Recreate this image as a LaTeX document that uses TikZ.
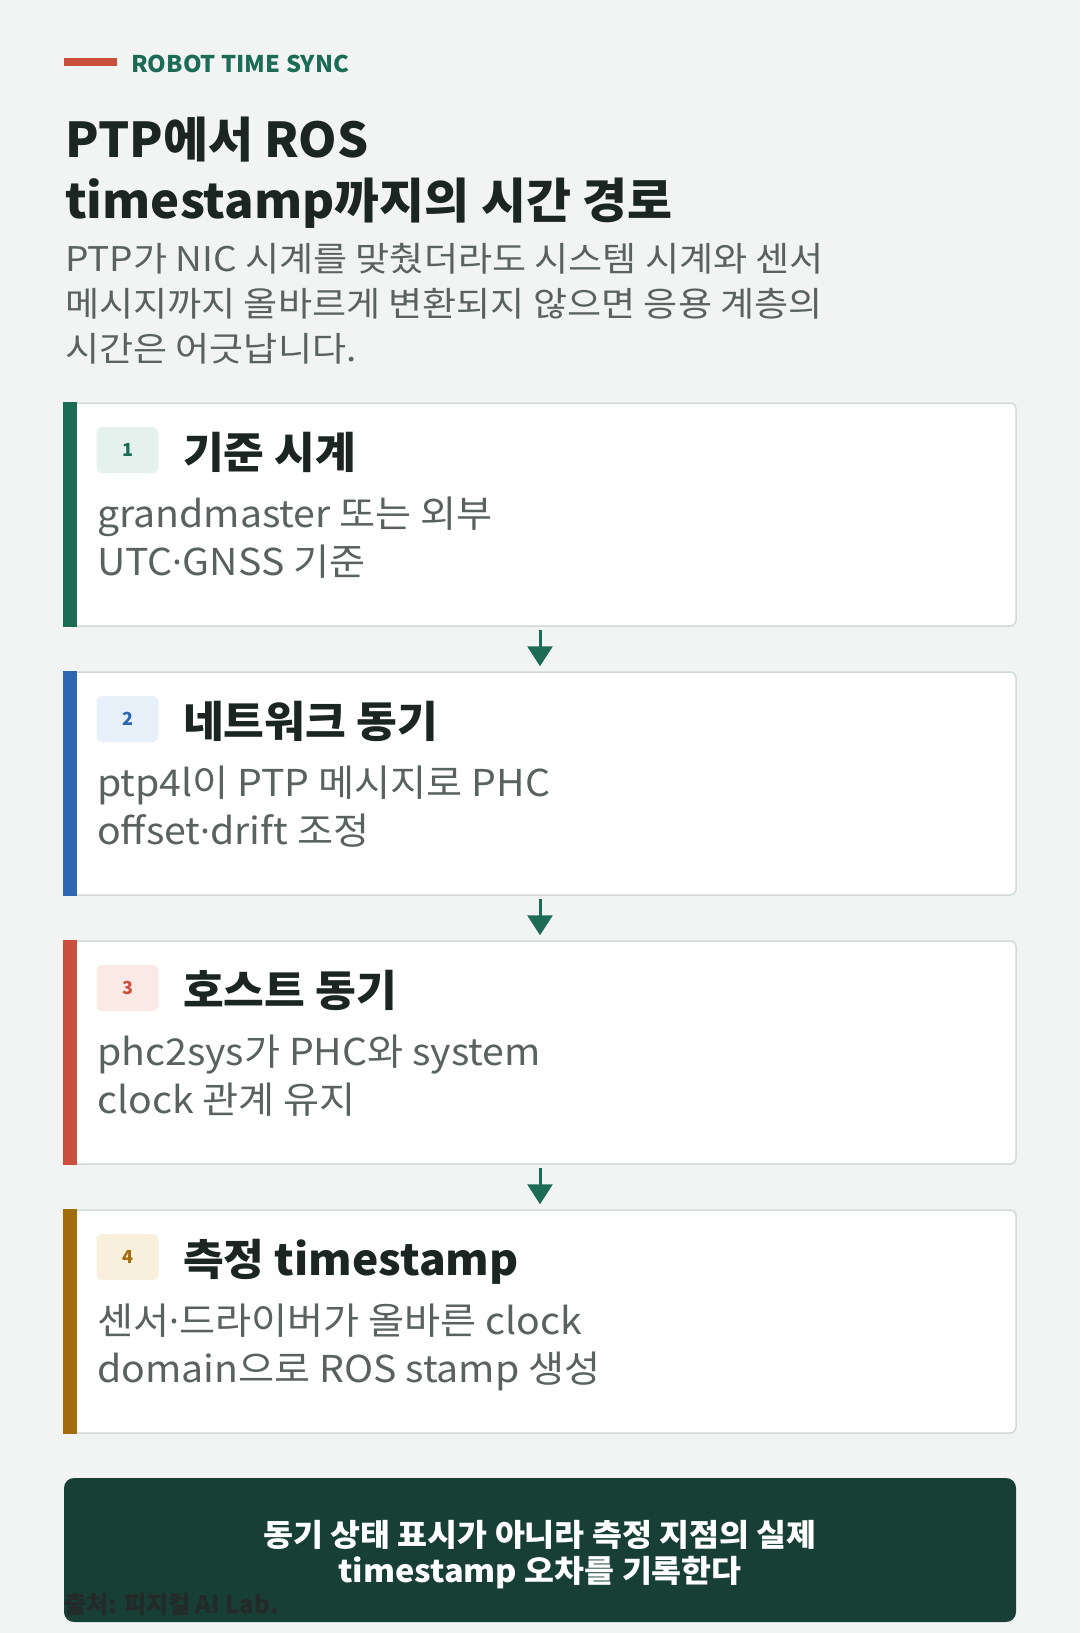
\documentclass[tikz,border=0pt]{standalone}
\usepackage{fontspec}
\setmainfont{Noto Sans CJK KR}
\newfontfamily\dotfont{Noto Sans}
\usetikzlibrary{positioning,arrows.meta}

\definecolor{bg}{HTML}{F2F4F3}
\definecolor{ink}{HTML}{1B2521}
\definecolor{mute}{HTML}{59625F}
\definecolor{edge}{HTML}{D2DAD7}
\definecolor{pine}{HTML}{1B6B55}
\definecolor{sea}{HTML}{2D67B2}
\definecolor{brick}{HTML}{C9503F}
\definecolor{ochre}{HTML}{A36C0E}
\definecolor{pineT}{HTML}{E5F1EC}
\definecolor{seaT}{HTML}{E7EFF9}
\definecolor{brickT}{HTML}{FBE9E5}
\definecolor{ochreT}{HTML}{F8EFDC}
\definecolor{deep}{HTML}{173F35}
\definecolor{src}{HTML}{232A27}

\begin{document}
\begin{tikzpicture}[x=1pt,y=-1pt,
    title/.style={anchor=base west,inner sep=0pt,text=ink,
        font={\fontsize{48}{48}\selectfont\bfseries\addfontfeature{FakeStretch=1.02}}},
    desc/.style={anchor=base west,inner sep=0pt,text=mute,
        font={\fontsize{34}{34}\selectfont\addfontfeature{FakeStretch=1.09}}},
    card/.style={draw=edge,line width=1.5pt,fill=white,rounded corners=6pt,
        minimum width=952pt,minimum height=223pt,inner sep=0pt},
    badge/.style={rounded corners=6pt,minimum width=62pt,minimum height=46pt,
        inner sep=0pt,font={\fontsize{18}{18}\selectfont\bfseries}},
    head/.style={anchor=base west,inner sep=0pt,text=ink,
        font={\fontsize{43}{43}\selectfont\bfseries\addfontfeature{FakeStretch=1.03}}},
    body/.style={anchor=base west,inner sep=0pt,text=mute,
        font={\fontsize{37}{37}\selectfont\addfontfeature{FakeStretch=1.06}}},
    note/.style={anchor=base,inner sep=0pt,text=white,
        font={\fontsize{31}{31}\selectfont\bfseries\addfontfeature{FakeStretch=1.05}}},
    flow/.style={draw=pine,line width=3pt,shorten <=3pt,shorten >=5pt,
        -{Triangle[width=25pt,length=20pt]}}]
\useasboundingbox (0,0) rectangle (1080,1633);
\fill[bg] (0,0) rectangle (1080,1633);

% heading
\fill[brick] (64,58) rectangle (117,66);
\node[anchor=base west,inner sep=0pt,text=pine,
    font={\fontsize{23}{23}\selectfont\bfseries\addfontfeature{FakeStretch=1.03}}]
    (tag) at (131,72.5) {ROBOT TIME SYNC};
\node[title] (title1) at (65,157) {PTP에서 ROS};
\node[title] (title2) at (65,218) {timestamp까지의 시간 경로};
\node[desc] (desc1) at (65,271) {PTP가 NIC 시계를 맞췄더라도 시스템 시계와 센서};
\node[desc] (desc2) at (65,316) {메시지까지 올바르게 변환되지 않으면 응용 계층의};
\node[desc] (desc3) at (65,361) {시간은 어긋납니다.};

% four steps
\foreach \i/\col/\tint/\head/\la/\lb in {%
    1/pine/pineT/{기준 시계}/{grandmaster 또는 외부}/{UTC{\dotfont ·}GNSS 기준},%
    2/sea/seaT/{네트워크 동기}/{ptp4l이 PTP 메시지로 PHC}/{offset{\dotfont ·}drift 조정},%
    3/brick/brickT/{호스트 동기}/{phc2sys가 PHC와 system}/{clock 관계 유지},%
    4/ochre/ochreT/{측정 timestamp}/{센서{\dotfont ·}드라이버가 올바른 clock}/{domain으로 ROS stamp 생성}}{
  \pgfmathsetmacro\ytop{403+269*(\i-1)}
  \node[card] (c\i) at (540,\ytop+111.5) {};
  \fill[\col] (c\i.north west) rectangle ([xshift=14pt]c\i.south west);
  \node[badge,fill=\tint,text=\col] (n\i) at (127.5,\ytop+47) {\i};
  \node[head] (h\i) at (183,\ytop+65) {\head};
  \node[body] (a\i) at (97,\ytop+124) {\la};
  \node[body] (b\i) at (97,\ytop+172) {\lb};
}
\foreach \i/\j in {1/2,2/3,3/4}
  \draw[flow] (c\i.south) -- (c\j.north);

% bottom note
\node[fill=deep,rounded corners=10pt,minimum width=952pt,minimum height=144pt,inner sep=0pt]
    (box) at (540,1550) {};
\node[note] (note1) at (540,1546) {동기 상태 표시가 아니라 측정 지점의 실제};
\node[note] (note2) at (540,1582) {timestamp 오차를 기록한다};
\node[anchor=base west,inner sep=0pt,text=src,font={\fontsize{24}{24}\selectfont\bfseries}]
    (source) at (64,1613) {출처: 피지컬 AI Lab.};
\end{tikzpicture}
\end{document}
